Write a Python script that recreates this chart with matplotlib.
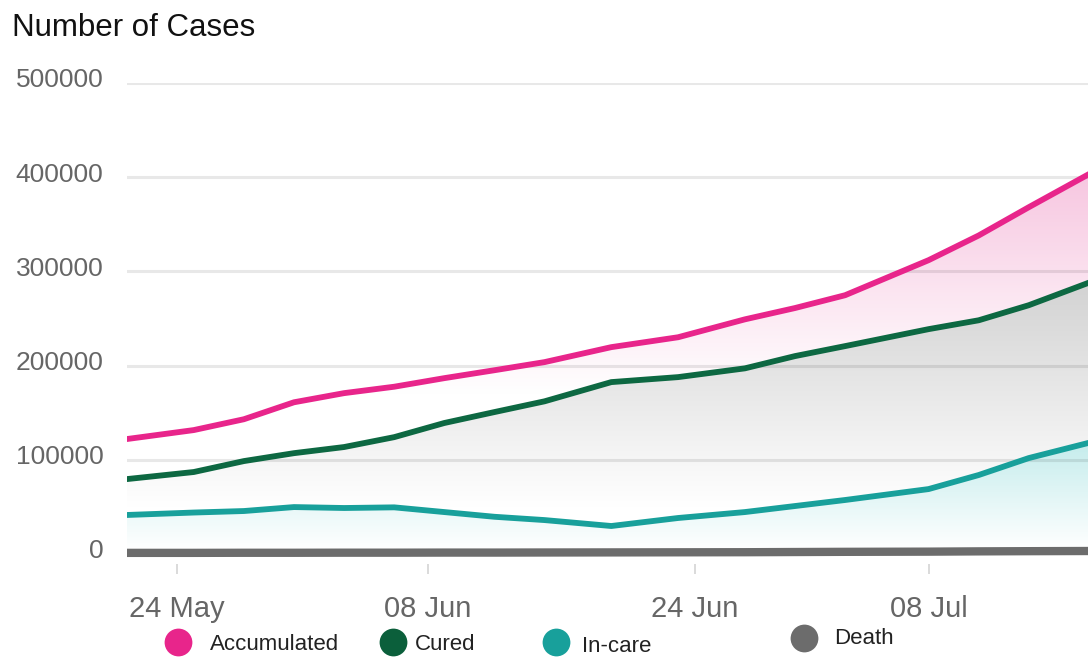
#!/usr/bin/env python3

import numpy as np
import matplotlib
matplotlib.use("Agg")
import matplotlib.pyplot as plt
import matplotlib.dates as mdates
from matplotlib.patches import PathPatch
from matplotlib.lines import Line2D
from matplotlib.transforms import ScaledTranslation

plt.rcParams.update({
    "font.family": ["Liberation Sans", "DejaVu Sans"],
})

# daily case counts (sampled dates)
dates = np.array([
    "2020-05-21", "2020-05-25", "2020-05-28", "2020-05-31", "2020-06-03",
    "2020-06-06", "2020-06-09", "2020-06-12", "2020-06-15", "2020-06-19",
    "2020-06-23", "2020-06-27", "2020-06-30", "2020-07-03", "2020-07-08",
    "2020-07-11", "2020-07-14", "2020-07-18",
], dtype="datetime64[D]")

accumulated = [122000, 131500, 143000, 161000, 170700, 177500, 186600, 195000, 203600,
               219500, 230000, 249000, 261000, 274600, 311800, 338000, 368000, 407000]
cured = [79500, 87000, 98600, 107000, 113500, 124000, 139000, 150600, 162000,
         182400, 187700, 197000, 210000, 220600, 238600, 248000, 264000, 290600]
in_care = [41400, 44000, 45600, 49800, 48800, 49500, 44500, 39500, 36000,
           29700, 38200, 44500, 50900, 57300, 68900, 83800, 101800, 119800]
death = [1200, 1200, 1300, 1300, 1400, 1400, 1500, 1500, 1600,
         1700, 1800, 1900, 2100, 2300, 2500, 2800, 3000, 3200]

legend_labels = ["Accumulated", "Cured", "In-care", "Death"]
y_ticks = [0, 100000, 200000, 300000, 400000, 500000]
x_ticks = np.array(["2020-05-24", "2020-06-08", "2020-06-24", "2020-07-08"], dtype="datetime64[D]")

c_acc = "#e8258b"
c_cured = "#0d6842"
c_care = "#18a09b"
c_death = "#6c6c6c"

W, H = 1088, 658
fig = plt.figure(figsize=(W / 100, H / 100), dpi=100)

# plot area in pixels
left_px, right_px, top_px, zero_px = 127, 1088, 82.8, 554
ax = fig.add_axes([left_px / W, 1 - zero_px / H,
                   (right_px - left_px) / W, (zero_px - top_px) / H])

x = mdates.date2num(dates)
x0 = mdates.date2num(np.datetime64("2020-05-21"))
x1 = x0 + (right_px - left_px) / 16.7
ymax = 500000


def gradient_area(vals, rgb_top, v_top, v_bottom, z):
    coll = ax.fill_between(x, vals, 0, facecolor="none", edgecolor="none")
    path = coll.get_paths()[0]
    patch = PathPatch(path, facecolor="none", edgecolor="none", transform=ax.transData)
    ax.add_patch(patch)
    levels = np.linspace(0, ymax, 500)
    t = np.clip((levels - v_bottom) / (v_top - v_bottom), 0, 1)[:, None]
    top = np.array(rgb_top) / 255.0
    img = (1 - t) * np.ones(3) + t * top
    im = ax.imshow(img[:, None, :], extent=[x[0], x[-1], 0, ymax], origin="lower",
                   aspect="auto", zorder=z, interpolation="bilinear")
    im.set_clip_path(patch)


gradient_area(accumulated, (247, 198, 224), 405000, 170000, 0.5)
gradient_area(cured, (210, 210, 210), 290000, 50000, 0.6)
gradient_area(in_care, (196, 236, 236), 120000, 5000, 0.7)

line_kw = dict(solid_capstyle="round", solid_joinstyle="round")
ax.plot(x, accumulated, color=c_acc, lw=4.2, zorder=5, **line_kw)
ax.plot(x, cured, color=c_cured, lw=4.2, zorder=5, **line_kw)
ax.plot(x, in_care, color=c_care, lw=4.2, zorder=5, **line_kw)
ax.plot(x, death, color=c_death, lw=6, zorder=6, clip_on=False, solid_capstyle="butt")

ax.set_xlim(x0, x1)
ax.set_ylim(0, ymax)

# axes styling
for s in ax.spines.values():
    s.set_visible(False)
ax.spines["bottom"].set_position(("outward", 7))
ax.set_axisbelow(False)
ax.yaxis.grid(True, color="black", alpha=0.09, lw=2.2)
ax.xaxis.grid(False)
ax.patch.set_visible(False)

ax.set_yticks(y_ticks)
ax.set_yticklabels([str(v) for v in y_ticks])
ax.tick_params(axis="y", length=0, pad=17, labelsize=19, labelcolor="#666666")
for lbl in ax.get_yticklabels():
    lbl.set_transform(lbl.get_transform() + ScaledTranslation(0, 5 / 100, fig.dpi_scale_trans))

ax.set_xticks(mdates.date2num(x_ticks))
ax.xaxis.set_major_formatter(mdates.DateFormatter("%d %b"))
ax.tick_params(axis="x", length=7.5, width=1.2, color="#d4d4d4", direction="out",
               pad=15, labelsize=21, labelcolor="#666666")

fig.text(12 / W, 1 - 28 / H, "Number of Cases", fontsize=22.5, color="#111111",
         ha="left", va="center")

# legend row along the bottom
leg_marker_px = [(178, 642), (393, 642), (556, 642), (804, 638)]
leg_text_px = [(210, 645), (415, 645), (582, 646), (834, 638)]
leg_colors = [c_acc, "#0b5f3b", c_care, c_death]
for (mx, my), (tx, ty), lab, col in zip(leg_marker_px, leg_text_px, legend_labels, leg_colors):
    fig.add_artist(Line2D([mx / W], [1 - my / H], marker="o", markersize=20,
                          color=col, markeredgewidth=0, transform=fig.transFigure))
    fig.text(tx / W, 1 - ty / H, lab, fontsize=16, color="#222222", ha="left", va="center")

fig.savefig("out.png", dpi=100)
